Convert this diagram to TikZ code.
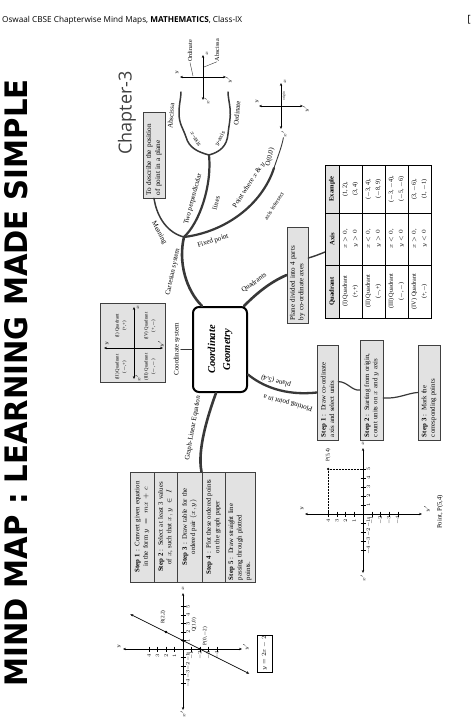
\documentclass[tikz,border=0pt]{standalone}
\usepackage{fontspec}
\usepackage{graphicx}
\setmainfont{Liberation Serif}
\newfontfamily\headfont{Open Sans}
\newfontfamily\titlefont{DejaVu Sans}
\usetikzlibrary{arrows.meta}

\definecolor{branchgray}{HTML}{383838}
\definecolor{boxgray}{HTML}{E2E2E2}

\tikzset{
  infobox/.style={draw=black!75, line width=0.6pt, fill=boxgray, rotate=90,
    align=center, inner sep=1pt, font=\fontsize{6.8}{8.4}\selectfont},
  cell/.style={rotate=90, align=center, inner sep=0.5pt,
    font=\fontsize{6.2}{10}\selectfont},
  branch/.style={draw=branchgray, line width=2.6pt, line cap=round},
  midbranch/.style={draw=branchgray, line width=1.5pt, line cap=round},
  twig/.style={draw=branchgray, line width=0.8pt, line cap=round},
  lbl/.style={font=\fontsize{7}{8}\selectfont, inner sep=0.5pt, align=center},
  axlbl/.style={font=\fontsize{3.9}{4.5}\selectfont, inner sep=0.2pt, rotate=90},
  axis/.style={{Stealth[length=3pt,width=2.4pt]}-{Stealth[length=3pt,width=2.4pt]}, line width=0.6pt},
  tick/.style={line width=0.4pt},
}

\begin{document}
\begin{tikzpicture}[x=1pt, y=-1pt]
  \useasboundingbox (0,0) rectangle (474,721);
  \fill[white] (0,0) rectangle (474,721);

  % page head and title
  \node[anchor=west, inner sep=0, font={\headfont\fontsize{8.2}{9}\selectfont}] (header) at (2,20)
    {Oswaal CBSE Chapterwise Mind Maps, \textbf{MATHEMATICS}, Class-IX};
  \node[inner sep=0, font={\headfont\fontsize{10}{10}\selectfont}] (bracket) at (469,20) {[};
  \node[rotate=90, inner sep=0] (title) at (16,383)
    {\resizebox{607pt}{23pt}{\titlefont\bfseries MIND MAP : LEARNING MADE SIMPLE}};
  \node[rotate=90, inner sep=0, text=black!75, font={\headfont\fontsize{18}{18}\selectfont}] (chapter) at (127,113) {Chapter-3};

  % centre
  \node[draw, line width=2pt, rounded corners=6pt, fill=white, rotate=90,
    minimum width=85pt, minimum height=54pt, align=center,
    font=\bfseries\itshape\fontsize{10.5}{15}\selectfont] (geo) at (220,349.5) {Coordinate\\Geometry};

  % Cartesian system
  \coordinate (hub) at (184,237);
  \coordinate (axhub) at (209,155);
  \draw[branch] ([xshift=-18pt]geo.east) .. controls (186,290) and (178,262) .. (hub);
  \node[lbl, rotate=78] (cartlbl) at (173,272) {Cartesian system};

  \node[infobox, minimum width=86pt, minimum height=22pt, text width=80pt, align=left,
    font=\fontsize{7.2}{9}\selectfont] (describe) at (154,155) {To describe the position\\of point in a plane};
  \draw[midbranch] (hub) .. controls (168,233) and (157,218) .. (describe.west);
  \node[lbl, rotate=-62] (meanlbl) at (159,233) {Meaning};

  \draw[branch, line width=2.2pt] (hub) .. controls (200,222) and (212,185) .. (axhub);
  \node[lbl, rotate=75] (perplbl) at (193,199) {Two perpendicular};
  \node[lbl, rotate=75] (lineslbl) at (216,203) {lines};

  \draw[midbranch] (axhub) .. controls (198,152) and (189,148) .. (186,137)
    .. controls (183,128) and (179,124) .. (179,113) .. controls (179,104) and (181,98) .. (181,92);
  \draw[midbranch] (axhub) .. controls (220,152) and (227,146) .. (228,134)
    .. controls (229,124) and (231,118) .. (230,108) .. controls (229,100) and (228,96) .. (228,92);
  \node[lbl, rotate=-60, font=\fontsize{6.2}{7}\selectfont] (xaxlbl) at (196,139) {$x$-axis};
  \node[lbl, rotate=60, font=\fontsize{6.2}{7}\selectfont] (yaxlbl) at (220,139) {$y$-axis};
  \node[lbl, rotate=85] (abslbl) at (171,116) {Abscissa};
  \node[lbl, rotate=85] (ordlbl) at (237,113) {Ordinate};

  % small axes at the top
  \draw[axis] (203,55) -- (203,100);
  \draw[axis] (180,77) -- (226,77);
  \node[axlbl] (tx) at (207,54) {$x$};
  \node[axlbl] (txd) at (207,101) {$x'$};
  \node[axlbl] (ty) at (177,73) {$y$};
  \node[axlbl] (tyd) at (229,80) {$y'$};
  \node[lbl, rotate=90, font=\fontsize{6.2}{7}\selectfont] (ordtop) at (190,51) {Ordinate};
  \node[lbl, rotate=90, font=\fontsize{6.2}{7}\selectfont] (abstop) at (217,50) {Abscissa};
  \draw[twig, line width=0.4pt] (ordtop.west) -- (193,76);
  \draw[twig, line width=0.4pt] (abstop.west) -- (204,67);

  % fixed point and origin
  \coordinate (fixend) at (274,168);
  \draw[branch, line width=2.2pt] (hub) .. controls (225,232) and (262,205) .. (fixend);
  \node[lbl, rotate=18] (fixlbl) at (213,241) {Fixed point};
  \node[lbl, rotate=57] (meetlbl) at (249,185) {Point where $x$ \& $y$};
  \node[lbl, rotate=57, font=\fontsize{6}{7}\selectfont] (meetlblb) at (274,206) {axis intersect};
  \node[lbl, rotate=78] (olbl) at (270,157) {O(0,0)};

  \draw[axis] (281,83) -- (281,129);
  \draw[axis] (259,106) -- (303,106);
  \node[axlbl] (ox) at (285,82) {$x$};
  \node[axlbl] (oxd) at (284,134) {$x'$};
  \node[axlbl] (oy) at (257,102) {$y$};
  \node[axlbl] (oyd) at (306,109) {$y'$};
  \node[axlbl, font=\fontsize{3.4}{4}\selectfont] (origlbl) at (284,96) {origin};
  \draw[twig, line width=0.9pt] (fixend) .. controls (278,156) and (282,146) .. (oxd);

  % quadrants
  \node[infobox, minimum width=96pt, minimum height=21pt, text width=90pt, align=left,
    font=\fontsize{7}{8.6}\selectfont] (plane) at (297.5,275) {Plane divided into 4 parts\\by co-ordinate axes};
  \draw[branch] ([xshift=24pt]geo.east) .. controls (254,296) and (268,283) .. (plane.north);
  \node[lbl, rotate=35] (quadlbl) at (254,283) {Quadrants};
  \coordinate (tabjoin) at (325,252);
  \draw[midbranch, line width=1.4pt] ([yshift=17pt]plane.south) .. controls (315,256) .. (tabjoin);

  \fill[boxgray] (325,165) rectangle (339,318);
  \draw[line width=0.6pt] (325,165) rectangle (431,318);
  \foreach \gx in {339,362,385,408} \draw[line width=0.5pt] (\gx,165) -- (\gx,318);
  \foreach \gy in {213,265} \draw[line width=0.5pt] (325,\gy) -- (431,\gy);
  \node[cell, font=\bfseries\fontsize{6.6}{8}\selectfont] (headq) at (332,291.5) {Quadrant};
  \node[cell, font=\bfseries\fontsize{6.6}{8}\selectfont] (heada) at (332,239) {Axis};
  \node[cell, font=\bfseries\fontsize{6.6}{8}\selectfont] (heade) at (332,189) {Example};
  \foreach \cx/\qt/\ax/\ex [count=\r] in {
    350.5/{(I) Quadrant\\(+,+)}/{$x>0$,\\$y>0$}/{(1, 2),\\(3, 4)},
    373.5/{(II) Quadrant\\($-$,+)}/{$x<0$,\\$y>0$}/{($-$3, 4),\\($-$8, 9)},
    396.5/{(III) Quadrant\\($-$,$-$)}/{$x<0$,\\$y<0$}/{($-$3, $-$4),\\($-$5, $-$6)},
    419.5/{(IV) Quadrant\\(+,$-$)}/{$x>0$,\\$y<0$}/{(3, $-$6),\\(1, $-$1)}}{
    \node[cell] (quad\r) at (\cx,291.5) {\qt};
    \node[cell] (axis\r) at (\cx,239) {\ax};
    \node[cell] (exam\r) at (\cx,189) {\ex};
  }

  % coordinate system
  \node[lbl, rotate=90] (cslbl) at (177,349.5) {Coordinate system};
  \draw[twig, line width=1pt] (geo.north) -- (cslbl);
  \node[draw=black!75, line width=0.6pt, fill=boxgray, minimum width=65pt, minimum height=79pt, inner sep=0] (quadbox) at (132.5,342.5) {};
  \draw[axis] (134,307) -- (134,379);
  \draw[axis] (104,348) -- (163,348);
  \node[axlbl] (qx) at (138,308) {$x$};
  \node[axlbl] (qxd) at (138,378) {$x'$};
  \node[axlbl] (qy) at (107,344) {$y$};
  \node[axlbl] (qyd) at (161,344) {$y'$};
  \node[cell, font=\fontsize{4.8}{7}\selectfont] (qone) at (121,326) {(I) Quadrant\\(+,+)};
  \node[cell, font=\fontsize{4.8}{7}\selectfont] (qfour) at (150,326) {(IV) Quadrant\\(+,$-$)};
  \node[cell, font=\fontsize{4.8}{7}\selectfont] (qtwo) at (121,367) {(II) Quadrant\\($-$,+)};
  \node[cell, font=\fontsize{4.8}{7}\selectfont] (qthree) at (150,367) {(III) Quadrant\\($-$,$-$)};

  % graph of a linear equation
  \foreach \cx/\cw/\al/\txt [count=\i] in {
    142/24/center/{\textbf{Step 1} : Convert given equation\\in the form $y = mx + c$},
    165.5/23/center/{\textbf{Step 2} : Select at least 3 values\\of $x$, such that $x, y \in I$},
    189.5/25/center/{\textbf{Step 3} : Draw table for the\\ordered pair $(x, y)$},
    213.5/23/center/{\textbf{Step 4} : Plot these ordered points\\on the graph paper},
    240/30/left/{\textbf{Step 5} : Draw straight line\\passing through plotted\\points.}}{
    \node[infobox, minimum width=110pt, minimum height=\cw pt, text width=106pt, align=\al] (lin\i) at (\cx,527) {\txt};
  }
  \draw[branch] ([xshift=-4pt]geo.west) .. controls (208,415) and (197,450) .. ([xshift=12pt]lin3.east);
  \node[lbl, rotate=80] (linlbl) at (193,428) {Graph-Linear Equation};

  % y = 2x - 2 plotted
  \draw[axis] (183,593) -- (183,710);
  \draw[axis] (123,649) -- (242,649);
  \foreach \v [count=\k] in {-4,-3,-2,-1,1,2,3,4,5} {
    \draw[tick] (180.5,{649-8.5*\v}) -- (185.5,{649-8.5*\v});
    \node[axlbl] (gav\k) at (188,{649-8.5*\v}) {$\v$};
  }
  \foreach \h [count=\k] in {-4,-3,-2,-1,1,2,3,4} {
    \draw[tick] ({183-8.5*\h},646.5) -- ({183-8.5*\h},651.5);
    \node[axlbl] (gah\k) at ({183-8.5*\h},655.5) {$\h$};
  }
  \node[axlbl] (gazero) at (188,654) {0};
  \node[axlbl] (gax) at (183,589) {$x$};
  \node[axlbl] (gaxd) at (183,714) {$x'$};
  \node[axlbl] (gay) at (119,647) {$y$};
  \node[axlbl] (gayd) at (246,647) {$y'$};
  \draw[axis] (130.3,614.2) -- (249.3,673.7);
  \node[circle, fill, inner sep=0, minimum size=2.6pt] (ptR) at (166,632) {};
  \node[circle, fill, inner sep=0, minimum size=2.6pt] (ptQ) at (183,640.5) {};
  \node[circle, fill, inner sep=0, minimum size=2.6pt] (ptP) at (200,649) {};
  \node[axlbl, font=\fontsize{5.2}{6}\selectfont] (lblR) at (163,617) {R(2,2)};
  \node[axlbl, font=\fontsize{5.2}{6}\selectfont] (lblQ) at (194,625) {Q(1,0)};
  \node[axlbl, font=\fontsize{5.2}{6}\selectfont] (lblP) at (205,636) {P(0,$-$2)};
  \node[draw, line width=0.6pt, rotate=90, minimum width=37pt, minimum height=15pt, inner sep=1pt,
    font=\fontsize{6.4}{7}\selectfont] (eqbox) at (264.5,653.5) {$y = 2x - 2$};

  % plotting a point
  \node[infobox, minimum width=95pt, minimum height=21pt, text width=89pt, align=left] (step1) at (327.5,392.5)
    {\textbf{Step 1} : Draw co-ordinate\\axis and select units};
  \node[infobox, minimum width=100pt, minimum height=23pt, text width=94pt, align=left] (step2) at (371.5,390)
    {\textbf{Step 2} : Starting from origin,\\count units on $x$ and $y$ axis};
  \node[infobox, minimum width=95pt, minimum height=22pt, text width=89pt, align=left] (step3) at (429,392.5)
    {\textbf{Step 3} : Mark the\\corresponding points};
  \draw[branch, line width=2.3pt] ([yshift=-25pt]geo.south) .. controls (262,386) and (285,396) .. (step1.north);
  \node[lbl, rotate=165] (plotlblb) at (276,381) {plane (5,4)};
  \node[lbl, rotate=165] (plotlbla) at (288,403) {Plotting point in a};
  \draw[twig, line width=1.2pt] ([yshift=11pt]step1.south) .. controls (348,382) and (352,391) .. (step2.north);
  \draw[twig, line width=1.2pt] ([yshift=-8pt]step2.south) .. controls (398,399) and (408,393) .. (step3.north);

  \draw[axis] (363,448) -- (363,573);
  \draw[axis] (305,514) -- (422,514);
  \foreach \v [count=\k] in {-4,-3,-2,-1,1,2,3,4,5} {
    \draw[tick] (360.5,{514-9*\v}) -- (365.5,{514-9*\v});
    \node[axlbl] (pbv\k) at (368.5,{514-9*\v}) {$\v$};
  }
  \foreach \h [count=\k] in {-4,-3,-2,-1,1,2,3,4} {
    \draw[tick] ({363-8.7*\h},511.5) -- ({363-8.7*\h},516.5);
    \node[axlbl] (pbh\k) at ({363-8.7*\h},520.5) {$\h$};
  }
  \node[axlbl] (pbzero) at (368.5,519) {0};
  \node[axlbl] (pbx) at (363,444) {$x$};
  \node[axlbl] (pbxd) at (363,578) {$x'$};
  \node[axlbl] (pby) at (302,509) {$y$};
  \node[axlbl] (pbyd) at (427,509) {$y'$};
  \node[circle, fill, inner sep=0, minimum size=2.6pt] (ptFive) at (328.2,469) {};
  \draw[densely dotted, line width=0.5pt] (ptFive) -- (363,469);
  \draw[densely dotted, line width=0.5pt] (ptFive) -- (328.2,514);
  \node[axlbl, font=\fontsize{5.2}{6}\selectfont] (lblFive) at (328,455) {P(5,4)};
  \node[lbl, rotate=90, font=\fontsize{6.6}{7}\selectfont] (pointcap) at (440,512) {Point, P(5,4)};
\end{tikzpicture}
\end{document}
